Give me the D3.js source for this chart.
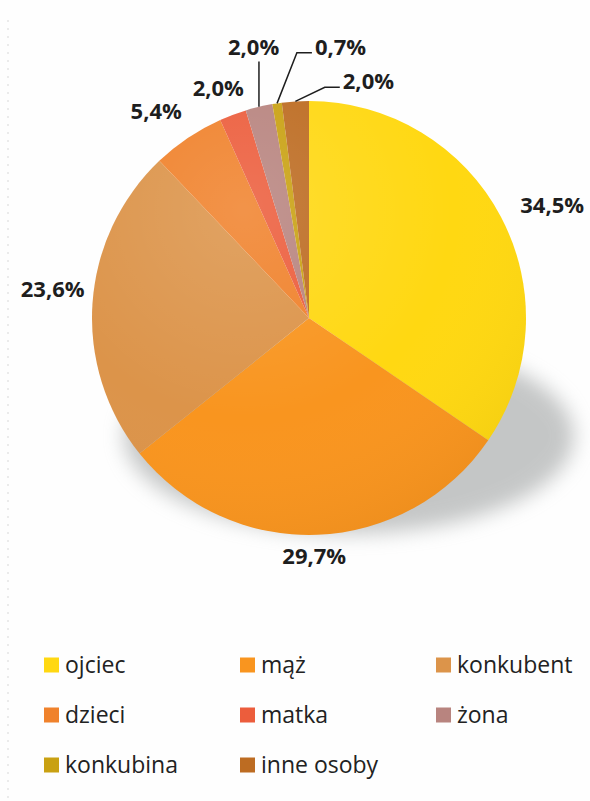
<!DOCTYPE html>
<head>
  <meta charset="utf-8">
  <script src="https://d3js.org/d3.v7.min.js"></script>
  <style>
    body { margin:0; background:#fff; }
    text { font-family: "Open Sans", sans-serif; }
  </style>
</head>
<body>
<script>
// data
var categories = ["ojciec", "mąż", "konkubent", "dzieci", "matka", "żona", "konkubina", "inne osoby"];
var values = [34.5, 29.7, 23.6, 5.4, 2.0, 2.0, 0.7, 2.0];
var colors = ["#ffd812", "#f9951f", "#dc944a", "#f0822c", "#ec5d3c", "#b8847f", "#c9a112", "#bd6c22"];

// label placement: angle nudge (deg) from slice middle, distance from centre (px), leader style
var labelLayout = [
  {da: 3.0, dist: 268, leader: null},
  {da: 0.9, dist: 238, leader: null},
  {da: 2.6, dist: 258, leader: null},
  {da: -2.6, dist: 257, leader: null},
  {da: -1.0, dist: 247, leader: null},
  {da: 1.8, dist: 277, leader: "v"},
  {da: 15.1, dist: 273, leader: "elbow"},
  {da: 17.7, dist: 244, leader: "elbow"}
];

var W = 590, H = 801;
var cx = 309, cy = 318, R = 217;

var svg = d3.select("body").append("svg")
  .attr("width", W)
  .attr("height", H)

svg.append("rect").attr("width", W).attr("height", H).attr("fill", "#fefefe")

// scan edge artefact
svg.append("line").attr("x1", 8).attr("x2", 8).attr("y1", 20).attr("y2", H)
  .attr("stroke", "#d8d8d8").attr("stroke-dasharray", "2,6").attr("stroke-width", 1)

var defs = svg.append("defs")
defs.append("filter").attr("id", "blur").attr("x", "-30%").attr("y", "-30%").attr("width", "160%").attr("height", "160%")
  .append("feGaussianBlur").attr("stdDeviation", 10)

var shade = defs.append("radialGradient").attr("id", "shade")
  .attr("cx", "35%").attr("cy", "25%").attr("r", "80%")
shade.append("stop").attr("offset", "0%").attr("stop-color", "#fff").attr("stop-opacity", 0.14)
shade.append("stop").attr("offset", "60%").attr("stop-color", "#fff").attr("stop-opacity", 0)
shade.append("stop").attr("offset", "100%").attr("stop-color", "#000").attr("stop-opacity", 0.04)

// shadow under the pie
svg.append("ellipse")
  .attr("cx", cx + 40).attr("cy", cy + 118)
  .attr("rx", R + 8).attr("ry", R * 0.45)
  .attr("fill", "#8c9090").attr("opacity", 0.5)
  .attr("filter", "url(#blur)")

var pie = d3.pie().sort(null).value(function(d){ return d; })
var arcs = pie(values)
var arc = d3.arc().innerRadius(0).outerRadius(R)

var g = svg.append("g").attr("transform", "translate(" + cx + "," + cy + ")")

g.selectAll("path.slice")
  .data(arcs)
  .enter()
  .append("path")
  .attr("class", "slice")
  .attr("d", arc)
  .attr("fill", function(d, i){ return colors[i]; })

g.append("circle").attr("r", R).attr("fill", "url(#shade)")

// labels
var fmt = function(v){ return v.toFixed(1).replace(".", ",") + "%"; }
var rad = Math.PI / 180

arcs.forEach(function(d, i){
  var L = labelLayout[i]
  var mid = (d.startAngle + d.endAngle) / 2
  var a = mid + L.da * rad
  var lx = Math.sin(a) * L.dist, ly = -Math.cos(a) * L.dist

  var t = g.append("text")
    .attr("x", lx).attr("y", ly)
    .attr("text-anchor", "middle")
    .attr("dy", "0.36em")
    .attr("font-size", 22)
    .attr("font-weight", 700)
    .attr("fill", "#1e1e1e")
    .text(fmt(values[i]))

  if (L.leader) {
    var w = t.node().getComputedTextLength()
    var p0 = [Math.sin(mid) * R, -Math.cos(mid) * R]
    var pts
    if (L.leader === "v") {
      pts = [p0, [p0[0], ly + 15]]
    } else {
      var end = [lx - w / 2 - 3, ly + 6]
      pts = [p0, [end[0] - 15, end[1]], end]
    }
    g.append("path")
      .attr("d", d3.line()(pts))
      .attr("fill", "none")
      .attr("stroke", "#1e1e1e")
      .attr("stroke-width", 1.5)
  }
})

// legend
var legX = [44, 240, 436], legY = [665, 715, 765]
var leg = svg.selectAll("g.leg")
  .data(categories)
  .enter()
  .append("g")
  .attr("class", "leg")
  .attr("transform", function(d, i){ return "translate(" + legX[i % 3] + "," + legY[Math.floor(i / 3)] + ")"; })

leg.append("rect")
  .attr("x", 0).attr("y", -7.5)
  .attr("width", 15).attr("height", 15)
  .attr("fill", function(d, i){ return colors[i]; })

leg.append("text")
  .attr("x", 21).attr("y", 0)
  .attr("dy", "0.36em")
  .attr("font-size", 23)
  .attr("fill", "#222")
  .text(function(d){ return d; })
</script>
</body>
